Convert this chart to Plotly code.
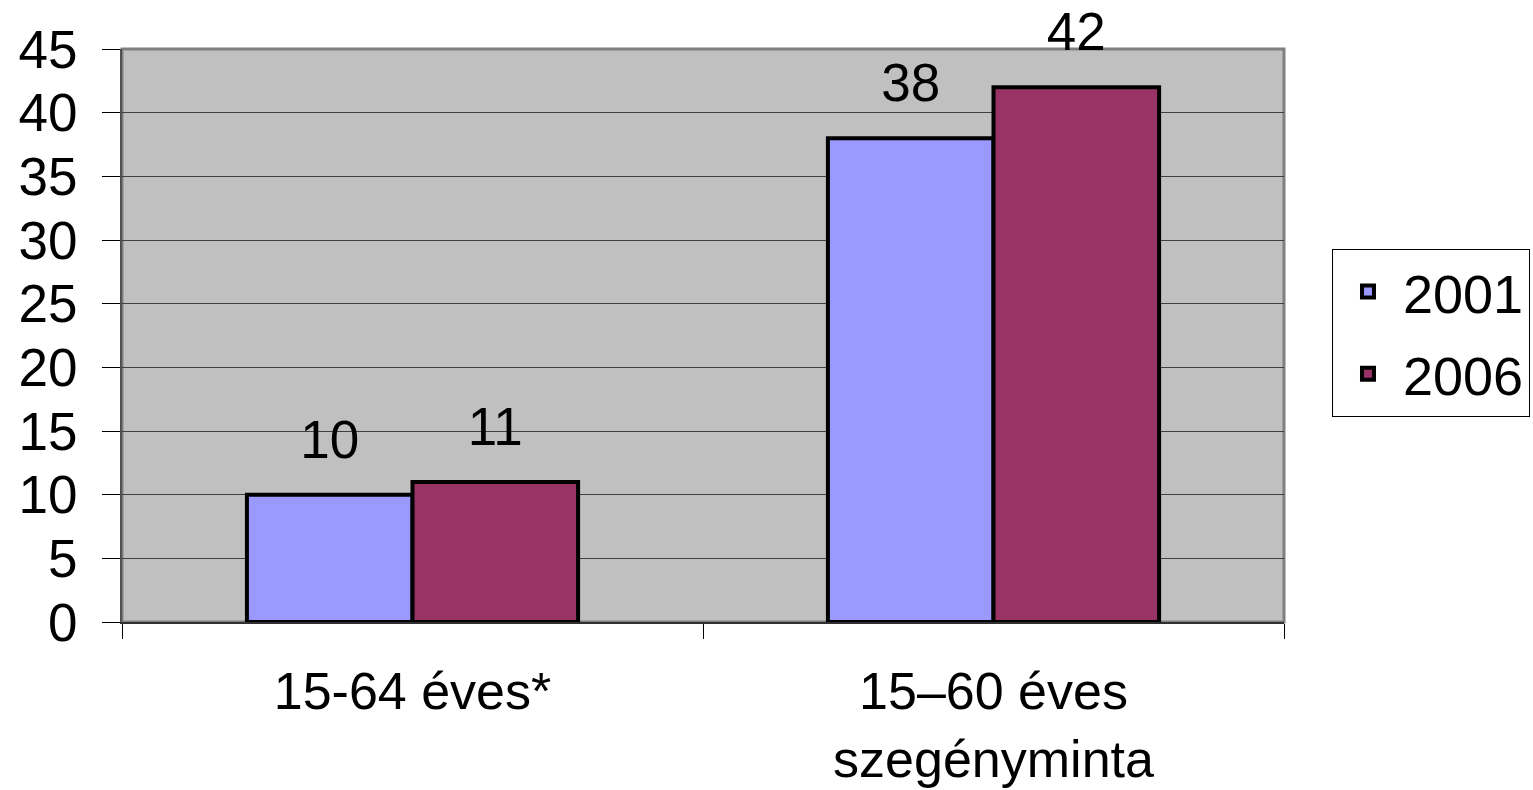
import plotly.graph_objects as go

categories = ["15-64 éves*", "15–60 éves<br>szegényminta"]
series_names = ["2001", "2006"]
values_2001 = [10, 38]
values_2006 = [11, 42]
y_ticks = [0, 5, 10, 15, 20, 25, 30, 35, 40, 45]

colors = {"2001": "#9999FF", "2006": "#993366"}
FONT = "Liberation Sans, Arial, sans-serif"

fig = go.Figure()
for name, vals in zip(series_names, [values_2001, values_2006]):
    fig.add_trace(go.Bar(
        x=categories, y=vals, name=name,
        marker=dict(color=colors[name], line=dict(color="black", width=4)),
        offsetgroup=name, legendgroup=name,
    ))
# data labels, aligned with the bars via offsetgroup
for name, vals in zip(series_names, [values_2001, values_2006]):
    fig.add_trace(go.Scatter(
        x=categories, y=vals, mode="markers+text", text=[str(v) for v in vals],
        textposition="top center", offsetgroup=name, showlegend=False,
        marker=dict(size=36, opacity=0), cliponaxis=False,
        textfont=dict(size=53, color="black", family=FONT), hoverinfo="skip",
    ))

fig.update_layout(
    width=1533, height=790,
    barmode="group", bargap=0.43, bargroupgap=0,
    scattermode="group",
    paper_bgcolor="white", plot_bgcolor="#C0C0C0",
    margin=dict(l=122, r=249, t=49, b=168, autoexpand=False),
    font=dict(family=FONT, size=52, color="black"),
    legend=dict(x=1.0413, y=0.651, xanchor="left", yanchor="top",
                bordercolor="black", borderwidth=1, bgcolor="white",
                font=dict(size=54), tracegroupgap=9, itemwidth=60),
    showlegend=True,
)
fig.update_yaxes(range=[0, 45], tickvals=y_ticks, ticks="outside", ticklen=18,
                 tickcolor="black", gridcolor="#404040", gridwidth=1,
                 zeroline=False, showline=True, linecolor="#505050", linewidth=2,
                 ticklabelstandoff=14, tickfont=dict(size=53), automargin=False)
fig.update_xaxes(tickson="boundaries", ticks="outside", ticklen=15, tickcolor="black",
                 showline=True, linecolor="#303030", linewidth=2,
                 ticklabelstandoff=23, tickfont=dict(size=52), range=[-0.5, 1.5],
                 automargin=False)
fig.add_shape(type="rect", xref="paper", yref="paper", x0=0, x1=1, y0=0, y1=1,
              line=dict(color="#808080", width=3), layer="below")

fig.write_html("out.html", post_script="document.body.style.margin='0';",
               config={"displayModeBar": False})
